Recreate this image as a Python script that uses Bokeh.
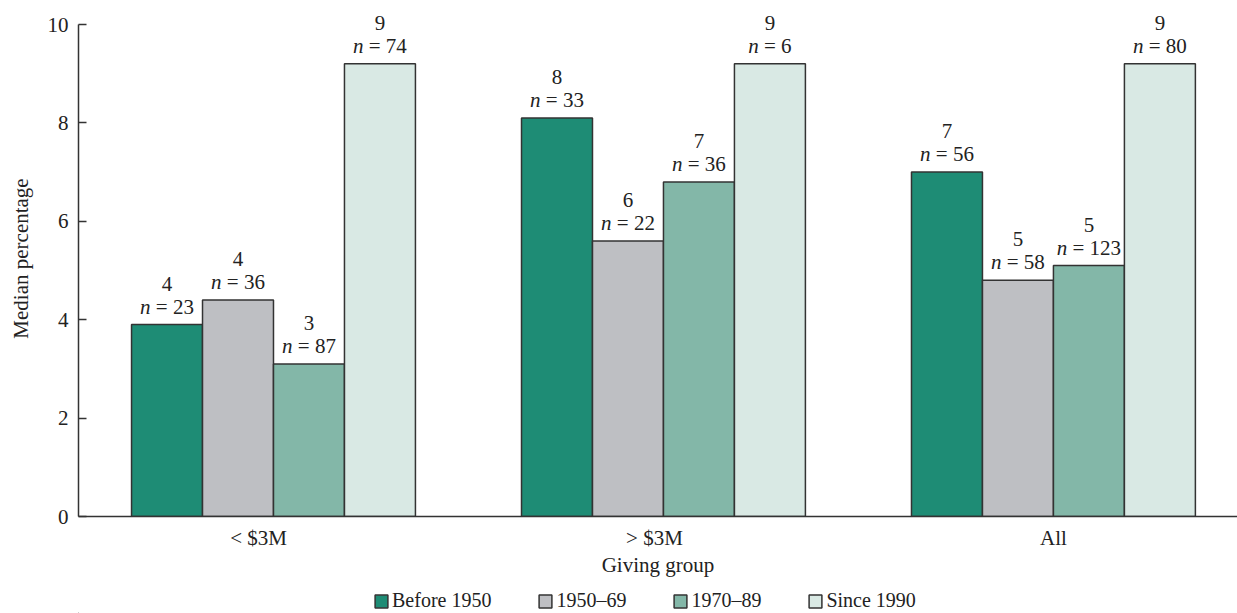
from bokeh.plotting import figure
from bokeh.layouts import column
from bokeh.models import (Range1d, FixedTicker, ColumnDataSource, Legend, LegendItem)
from bokeh.core.properties import value
from bokeh.embed import file_html
from bokeh.resources import INLINE

# ---- data ----
groups = ["< $3M", "> $3M", "All"]
series = ["Before 1950", "1950\u201369", "1970\u201389", "Since 1990"]
colors = ["#1e8c75", "#bebfc3", "#83b7a8", "#d9e9e4"]
before_1950 = [3.9, 8.1, 7.0]
y1950_69 = [4.4, 5.6, 4.8]
y1970_89 = [3.1, 6.8, 5.1]
since_1990 = [9.2, 9.2, 9.2]
label_before_1950 = ["4", "8", "7"]
label_1950_69 = ["4", "6", "5"]
label_1970_89 = ["3", "7", "5"]
label_since_1990 = ["9", "9", "9"]
n_before_1950 = [23, 33, 56]
n_1950_69 = [36, 22, 58]
n_1970_89 = [87, 36, 123]
n_since_1990 = [74, 6, 80]
yticks = [0, 2, 4, 6, 8, 10]

values = [before_1950, y1950_69, y1970_89, since_1990]
labels = [label_before_1950, label_1950_69, label_1970_89, label_since_1990]
ns = [n_before_1950, n_1950_69, n_1970_89, n_since_1990]

FONT = "Liberation Serif"
FS = 21
FSS = "%dpx" % FS
TXT = "#222222"
BW = 0.182
NB = "\u00a0"
W = 1237

p = figure(width=W, height=580, output_backend="svg", toolbar_location=None,
           x_range=Range1d(0, 2.972), y_range=Range1d(0, 10.488),
           min_border_left=78, min_border_right=0, min_border_top=0,
           min_border_bottom=64)
p.outline_line_color = None
p.xgrid.grid_line_color = None
p.ygrid.grid_line_color = None
p.background_fill_color = "white"
p.border_fill_color = "white"

for i, (s, vals, col) in enumerate(zip(series, values, colors)):
    xs = [g + 0.5 + (i - 1.5) * BW for g in range(len(groups))]
    src = ColumnDataSource(dict(x=xs, top=vals, lab=labels[i]))
    p.vbar(x="x", top="top", bottom=0, width=BW, source=src,
           fill_color=col, line_color="#333333", line_width=1.5)
    p.text(x="x", y="top", text="lab", source=src, y_offset=-41,
           text_align="center", text_baseline="middle",
           text_font=value(FONT), text_font_size=FSS, text_color=TXT)
    # "n = NN" line, with an italic n
    for k, n in enumerate(ns[i]):
        rest = NB + "=" + NB + str(n)
        w = 0.5 * FS + 0.25 * FS * 2 + 0.564 * FS + 0.5 * FS * len(str(n))
        sub = ColumnDataSource(dict(x=[xs[k]], y=[vals[k]], t=["n"], r=[rest]))
        p.text(x="x", y="y", text="t", source=sub, x_offset=-w / 2, y_offset=-18,
               text_align="left", text_baseline="middle", text_font_style="italic",
               text_font=value(FONT), text_font_size=FSS, text_color=TXT)
        p.text(x="x", y="y", text="r", source=sub, x_offset=-w / 2 + 0.5 * FS, y_offset=-18,
               text_align="left", text_baseline="middle",
               text_font=value(FONT), text_font_size=FSS, text_color=TXT)

# axes
p.xaxis.ticker = FixedTicker(ticks=[0.462, 1.477, 2.5])
p.xaxis.major_label_overrides = {0.462: groups[0], 1.477: groups[1], 2.5: groups[2]}
p.xaxis.major_tick_line_color = None
p.xaxis.minor_tick_line_color = None
p.xaxis.axis_line_color = "#333333"
p.xaxis.axis_line_width = 1.5
p.xaxis.major_label_standoff = 3
p.xaxis.axis_label = "Giving group"
p.xaxis.axis_label_standoff = 0

p.yaxis.ticker = FixedTicker(ticks=yticks)
p.yaxis.bounds = (0, 10)
p.yaxis.minor_tick_line_color = None
p.yaxis.major_tick_out = 0
p.yaxis.major_tick_in = 8
p.yaxis.major_tick_line_color = "#333333"
p.yaxis.major_tick_line_width = 1.5
p.yaxis.axis_line_color = "#333333"
p.yaxis.axis_line_width = 1.5
p.yaxis.major_label_standoff = 10
p.yaxis.axis_label = "Median percentage"
p.yaxis.axis_label_standoff = 12

for ax in (p.xaxis, p.yaxis):
    ax.major_label_text_font = FONT
    ax.major_label_text_font_size = FSS
    ax.major_label_text_color = TXT
    ax.axis_label_text_font = FONT
    ax.axis_label_text_font_size = FSS
    ax.axis_label_text_font_style = "normal"
    ax.axis_label_text_color = TXT

# legend strip (its frame is aligned with the main frame by the column layout)
lg = figure(width=W, height=33, output_backend="svg", toolbar_location=None,
            x_range=Range1d(0, 1), y_range=Range1d(0, 1),
            min_border_left=78, min_border_right=0, min_border_top=0, min_border_bottom=0)
lg.axis.visible = False
lg.grid.visible = False
lg.outline_line_color = None
items = []
for s, col in zip(series, colors):
    # swatch-only renderer, placed outside the strip's visible range
    r = lg.vbar(x=[-5], top=[0], width=0.1, fill_color=col,
                line_color="#333333", line_width=1.5)
    items.append(LegendItem(label=s, renderers=[r]))
legend = Legend(items=items, orientation="horizontal", location=(295, 1),
                glyph_width=16, glyph_height=16, label_standoff=3, spacing=46,
                padding=0, margin=0, border_line_color=None,
                background_fill_alpha=0, label_height=16,
                label_text_font=FONT, label_text_font_size="20px",
                label_text_color=TXT)
lg.add_layout(legend, "center")

layout = column(p, lg, spacing=0)
open("out.html", "w").write(file_html(layout, INLINE))
